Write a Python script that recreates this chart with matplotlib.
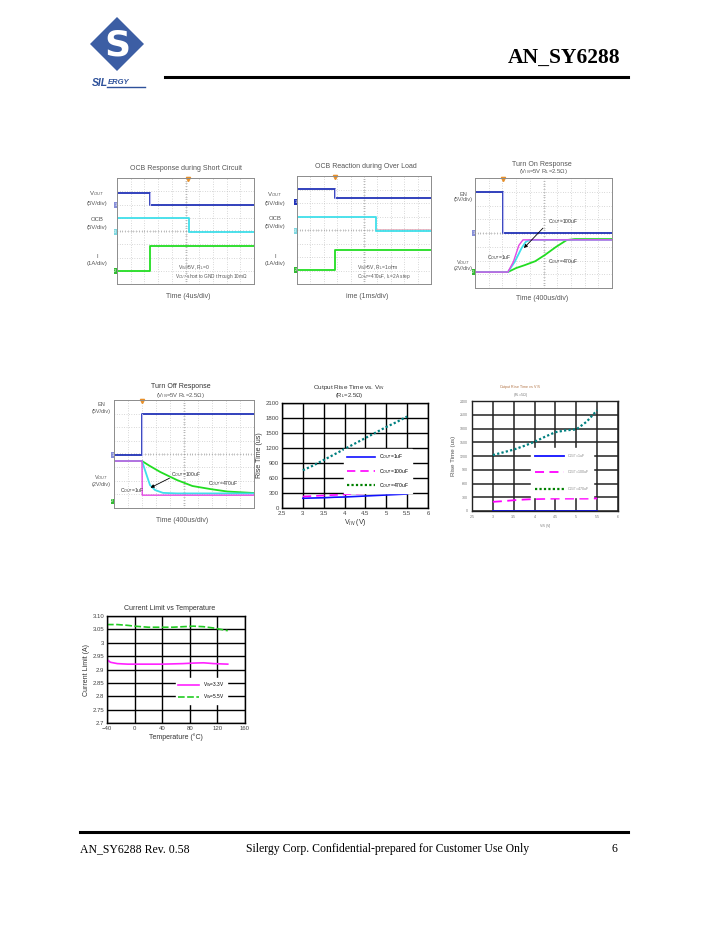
import numpy as np
import matplotlib.pyplot as plt
from matplotlib.patches import Polygon

W, H = 707, 933

plt.rcParams['font.family'] = ['Liberation Sans', 'DejaVu Sans']
plt.rcParams['mathtext.fontset'] = 'custom'
plt.rcParams['mathtext.rm'] = 'Liberation Sans'
plt.rcParams['mathtext.it'] = 'Liberation Sans:italic'

# ------------------------------ dane ------------------------------
# oscylogramy: wartosci w dzialkach ekranu (10 x 8)

# OCB Response during Short Circuit
sc_t = [0, 2.4, 2.4, 10]
sc_vout = [6.87, 6.87, 5.96, 5.96]
sc_ocb_t = [0, 5.25, 5.25, 10]
sc_ocb = [4.98, 4.98, 3.92, 3.92]
sc_i = [0.98, 0.98, 2.87, 2.87]

# OCB Reaction during Over Load
ol_t = [0, 2.84, 2.84, 10]
ol_vout = [7.04, 7.04, 6.37, 6.37]
ol_ocb_t = [0, 5.9, 5.9, 10]
ol_ocb = [4.96, 4.96, 3.93, 3.93]
ol_i = [1.04, 1.04, 2.52, 2.52]

# Turn On Response
on_en_t = [0, 2.04, 2.04, 10]
on_en = [6.98, 6.98, 4.0, 4.0]
on_t_470 = [0, 2.4, 3.0, 3.65, 4.4, 5.1, 5.9, 6.7, 7.3, 10]
on_v_470 = [1.16, 1.16, 1.45, 1.67, 1.95, 2.4, 2.98, 3.49, 3.56, 3.56]
on_t_100 = [0, 2.4, 2.9, 3.4, 3.7, 4.0, 10]
on_v_100 = [1.16, 1.16, 1.9, 2.9, 3.35, 3.5, 3.5]
on_t_1 = [0, 2.4, 2.8, 3.2, 3.5, 10]
on_v_1 = [1.16, 1.16, 1.9, 3.1, 3.5, 3.5]

# Turn Off Response
off_en_t = [0, 2.0, 2.0, 10]
off_en = [3.93, 3.93, 6.96, 6.96]
off_t_470 = [0, 2.0, 2.5, 3.3, 4.5, 5.6, 6.9, 8.1, 10]
off_v_470 = [3.48, 3.48, 3.15, 2.67, 2.07, 1.63, 1.4, 1.22, 1.11]
off_t_100 = [0, 2.0, 2.33, 2.57, 2.93, 3.5, 4.5, 10]
off_v_100 = [3.48, 3.48, 2.44, 1.7, 1.33, 1.12, 1.08, 1.08]
off_t_1 = [0, 2.0, 2.02, 10]
off_v_1 = [3.48, 3.48, 0.95, 0.95]

# Output Rise Time vs. VIN
vin = [3.0, 3.25, 3.5, 3.75, 4.0, 4.25, 4.5, 4.75, 5.0, 5.25, 5.5]
rise_1uf = [195, 200, 205, 215, 220, 230, 240, 250, 260, 270, 280]
rise_100uf = [230, 240, 250, 260, 270, 285, 295, 305, 320, 335, 350]
rise_470uf = [755, 850, 960, 1070, 1180, 1290, 1400, 1510, 1620, 1720, 1830]
rise_ticks_x = [2.5, 3, 3.5, 4, 4.5, 5, 5.5, 6]
rise_ticks_y = [0, 300, 600, 900, 1200, 1500, 1800, 2100]

# drugi wykres czasu narastania
rise2_1uf = [0, 0, 0, 0, 0, 0, 0, 0, 0, 0, 0]
rise2_100uf = [200, 215, 235, 250, 260, 265, 270, 270, 270, 270, 275]
rise2_470uf = [1220, 1280, 1340, 1420, 1510, 1620, 1720, 1760, 1780, 1950, 2200]
rise2_ticks_y = [0, 300, 600, 900, 1200, 1500, 1800, 2100, 2400]

# Current Limit vs Temperature
temp = [-40, -35, -25, -10, 0, 20, 40, 55, 70, 85, 100, 115, 135]
ilim_a = [2.937, 2.927, 2.922, 2.92, 2.92, 2.92, 2.92, 2.921, 2.922, 2.924, 2.925, 2.922, 2.92]
ilim_b = [3.068, 3.068, 3.068, 3.065, 3.062, 3.058, 3.058, 3.058, 3.06, 3.062, 3.06, 3.055, 3.045]
temp_ticks = [-40, 0, 40, 80, 120, 160]
ilim_ticks = [2.7, 2.75, 2.8, 2.85, 2.9, 2.95, 3, 3.05, 3.1]
ilim_labels = ['2.7', '2.75', '2.8', '2.85', '2.9', '2.95', '3', '3.05', '3.10']

# kolory oscyloskopu
C_BLUE = '#2233b8'
C_CYAN = '#3fdfea'
C_GREEN = '#22dd22'
C_MAG = '#e448e4'
C_TXT = '#555555'

fig = plt.figure(figsize=(W / 100, H / 100), dpi=100)


def px_axes(left, top, right, bottom):
    return fig.add_axes([left / W, 1 - bottom / H, (right - left) / W, (bottom - top) / H])


def ftext(x, y, s, **kw):
    fig.text(x / W, 1 - y / H, s, **kw)


def scope_axes(left, top, right, bottom):
    ax = px_axes(left, top, right, bottom)
    ax.set_xlim(0, 10)
    ax.set_ylim(0, 8)
    ax.set_xticks([])
    ax.set_yticks([])
    for x in range(1, 10):
        ax.axvline(x, color='#b4b4b4', lw=0.5, ls=(0, (1, 2.5)))
    for y in range(1, 8):
        ax.axhline(y, color='#b4b4b4', lw=0.5, ls=(0, (1, 2.5)))
    mx = np.arange(0.2, 10, 0.2)
    my = np.arange(0.2, 8, 0.2)
    ax.plot(mx, np.full(len(mx), 4), ls='none', marker='|', ms=1.6, mew=0.4, color='#999999')
    ax.plot(np.full(len(my), 5), my, ls='none', marker='_', ms=1.6, mew=0.4, color='#999999')
    for s in ax.spines.values():
        s.set_color('#8c8c8c')
        s.set_linewidth(0.7)
    return ax


def gnd(ax, y, color, label):
    ax.text(-0.12, y, label, fontsize=2.8, color='white', ha='center', va='center',
            bbox=dict(boxstyle='square,pad=0.15', fc=color, ec='none'), clip_on=False)


def trigger(ax, x):
    ax.plot(x, 7.93, marker='v', ms=3, color='#e8902a', clip_on=False)


# ------------------------------ naglowek / stopka ------------------------------

logo = Polygon([(117 / W, 1 - 17 / H), (144 / W, 1 - 44 / H), (117 / W, 1 - 71 / H), (90 / W, 1 - 44 / H)],
               closed=True, transform=fig.transFigure, fc='#3c5ea4', ec='none')
fig.patches.append(logo)
ftext(117, 45, 'S', fontsize=26, fontweight='bold', color='white', ha='center', va='center',
      family='DejaVu Sans')
ftext(92, 83, 'SIL', fontsize=7.5, fontweight='bold', style='italic', color='#2e519a',
      ha='left', va='center')
ftext(108, 82, 'ERGY', fontsize=5.5, fontweight='bold', style='italic', color='#2e519a',
      ha='left', va='center')
fig.add_artist(plt.Line2D([107 / W, 145 / W], [1 - 86.5 / H, 1 - 86.5 / H], color='#2e519a', lw=1,
                          transform=fig.transFigure))

ftext(620, 58, 'AN_SY6288', fontsize=15.5, fontweight='bold', family='Liberation Serif',
      ha='right', va='center')
fig.add_artist(plt.Line2D([165 / W, 628 / W], [1 - 77 / H, 1 - 77 / H], color='black', lw=2.2,
                          transform=fig.transFigure))

fig.add_artist(plt.Line2D([80 / W, 628 / W], [1 - 832 / H, 1 - 832 / H], color='black', lw=2.2,
                          transform=fig.transFigure))
ftext(80, 849, 'AN_SY6288 Rev. 0.58', fontsize=8.5, family='Liberation Serif', ha='left', va='center')
ftext(388, 849, 'Silergy Corp. Confidential-prepared for Customer Use Only', fontsize=8.5,
      family='Liberation Serif', ha='center', va='center')
ftext(614, 849, '6', fontsize=8.5, family='Liberation Serif', ha='center', va='center')

# ------------------------------ OCB short circuit ------------------------------

ax = scope_axes(117, 178, 254, 284)
ax.plot(sc_t, sc_i, color=C_GREEN, lw=1.3)
ax.plot(sc_ocb_t, sc_ocb, color=C_CYAN, lw=1.3)
ax.plot(sc_t, sc_vout, color=C_BLUE, lw=1.3)
ax.plot([sc_t[1], sc_t[2]], [sc_vout[1], sc_vout[2]], color='#b8b8f0', lw=0.8)
trigger(ax, 5.2)
gnd(ax, sc_vout[-1], '#8890d8', '1')
gnd(ax, sc_ocb[-1], '#7fd8e0', '3')
gnd(ax, sc_i[0], '#33bb33', '2')
ax.text(4.45, 1.2, 'V$_{IN}$=5V, R$_L$=0', fontsize=3.6, color=C_TXT, va='center')
ax.text(4.2, 0.53, 'V$_{OUT}$ short to GND through 10mΩ', fontsize=3.4, color=C_TXT, va='center')
ftext(186, 168, 'OCB Response during Short Circuit', fontsize=5, color=C_TXT, ha='center', va='center')
ftext(188, 297, 'Time (4us/div)', fontsize=5, color=C_TXT, ha='center', va='center')
for y, s in [(194, 'V$_{OUT}$'), (203, '(5V/div)'), (220, 'OCB'), (228, '(5V/div)'), (256, 'I'), (264, '(1A/div)')]:
    ftext(97, y, s, fontsize=4.3, color=C_TXT, ha='center', va='center')

# ------------------------------ OCB over load ------------------------------

ax = scope_axes(297, 176, 431, 284)
ax.plot(ol_t, ol_i, color=C_GREEN, lw=1.3)
ax.plot(ol_ocb_t, ol_ocb, color=C_CYAN, lw=1.3)
ax.plot([ol_ocb_t[2], 10], [ol_ocb[2] + 0.15, ol_ocb[2] + 0.15], color='#e0a0b0', lw=0.5)
ax.plot(ol_t, ol_vout, color=C_BLUE, lw=1.3)
ax.plot([ol_t[1], ol_t[2]], [ol_vout[1], ol_vout[2]], color='#b8b8f0', lw=0.8)
trigger(ax, ol_t[1])
gnd(ax, 6.07, '#2233b8', '1')
gnd(ax, ol_ocb[-1], '#7fd8e0', '3')
gnd(ax, ol_i[0], '#33bb33', '2')
ax.text(4.48, 1.19, 'V$_{IN}$=5V, R$_L$=1ohm', fontsize=3.6, color=C_TXT, va='center')
ax.text(4.48, 0.52, 'C$_{OUT}$=470uF, I$_L$=2A step', fontsize=3.4, color=C_TXT, va='center')
ftext(366, 167, 'OCB Reaction during Over Load', fontsize=5, color=C_TXT, ha='center', va='center')
ftext(367, 297, 'ime (1ms/div)', fontsize=5, color=C_TXT, ha='center', va='center')
for y, s in [(195, 'V$_{OUT}$'), (203, '(5V/div)'), (218, 'OCB'), (227, '(5V/div)'), (257, 'I'), (264, '(1A/div)')]:
    ftext(275, y, s, fontsize=4.3, color=C_TXT, ha='center', va='center')

# ------------------------------ Turn On ------------------------------

ax = scope_axes(475, 178, 612, 288)
ax.plot(on_t_470, on_v_470, color=C_GREEN, lw=1.3)
ax.plot(on_t_100, on_v_100, color=C_CYAN, lw=1.3)
ax.plot(on_t_1, on_v_1, color=C_MAG, lw=1.0)
ax.plot(on_en_t, on_en, color=C_BLUE, lw=1.3)
ax.plot([on_en_t[1], on_en_t[2]], [on_en[1], on_en[2]], color='#b8b8f0', lw=0.8)
trigger(ax, on_en_t[1])
gnd(ax, on_en[-1], '#8890d8', '1')
gnd(ax, on_v_470[0], '#33bb33', '2')
ax.annotate('', xy=(3.43, 2.76), xytext=(5.1, 4.5),
            arrowprops=dict(arrowstyle='-|>', color='black', lw=0.6, mutation_scale=5))
ax.text(5.3, 4.8, 'C$_{OUT}$=100uF', fontsize=3.6, color='#333333', va='center')
ax.text(0.9, 2.2, 'C$_{OUT}$=1uF', fontsize=3.6, color='#333333', va='center')
ax.text(5.3, 1.9, 'C$_{OUT}$=470uF', fontsize=3.6, color='#333333', va='center')
ftext(542, 164, 'Turn On Response', fontsize=5, color=C_TXT, ha='center', va='center')
ftext(543, 171, '(V$_{IN}$=5V R$_L$=2.5Ω)', fontsize=4.2, color=C_TXT, ha='center', va='center')
ftext(542, 299, 'Time (400us/div)', fontsize=5, color=C_TXT, ha='center', va='center')
for y, s in [(195, 'EN'), (200, '(5V/div)'), (263, 'V$_{OUT}$'), (269, '(2V/div)')]:
    ftext(463, y, s, fontsize=4.0, color=C_TXT, ha='center', va='center')

# ------------------------------ Turn Off ------------------------------

ax = scope_axes(114, 400, 254, 508)
ax.plot(off_t_470, off_v_470, color=C_GREEN, lw=1.3)
ax.plot(off_t_100, off_v_100, color=C_CYAN, lw=1.3)
ax.plot(off_t_1, off_v_1, color=C_MAG, lw=1.0)
ax.plot(off_en_t, off_en, color=C_BLUE, lw=1.3)
ax.plot([off_en_t[1], off_en_t[2]], [off_en[1], off_en[2]], color='#b8b8f0', lw=0.8)
trigger(ax, off_en_t[1])
gnd(ax, off_en[0], '#8890d8', '1')
gnd(ax, 0.5, '#33bb33', '2')
ax.annotate('', xy=(2.43, 1.41), xytext=(4.14, 2.3),
            arrowprops=dict(arrowstyle='-|>', color='black', lw=0.6, mutation_scale=5))
ax.text(4.1, 2.5, 'C$_{OUT}$=100uF', fontsize=3.6, color='#333333', va='center')
ax.text(0.4, 1.26, 'C$_{OUT}$=1uF', fontsize=3.6, color='#333333', va='center')
ax.text(6.7, 1.78, 'C$_{OUT}$=470uF', fontsize=3.6, color='#333333', va='center')
ftext(181, 386, 'Turn Off Response', fontsize=5, color='#333333', ha='center', va='center')
ftext(180, 396, '(V$_{IN}$=5V R$_L$=2.5Ω)', fontsize=4.2, color=C_TXT, ha='center', va='center')
ftext(182, 520, 'Time (400us/div)', fontsize=5, color=C_TXT, ha='center', va='center')
for y, s in [(405, 'EN'), (412, '(5V/div)'), (478, 'V$_{OUT}$'), (485, '(2V/div)')]:
    ftext(101, y, s, fontsize=4.0, color=C_TXT, ha='center', va='center')

# ------------------------------ Output Rise Time vs. VIN ------------------------------

ax = px_axes(282, 403, 428, 508)
ax.plot(vin, rise_1uf, color='#1010ff', lw=1.2, label='C$_{OUT}$=1uF')
ax.plot(vin, rise_100uf, color='#ff00ff', lw=1.2, ls=(0, (5, 3)), label='C$_{OUT}$=100uF')
ax.plot(vin, rise_470uf, color='#008080', lw=1.6, ls=(0, (1, 1)), label='C$_{OUT}$=470uF')
ax.set_xlim(2.5, 6)
ax.set_ylim(0, 2100)
ax.set_xticks(rise_ticks_x)
ax.set_yticks(rise_ticks_y)
ax.set_xticklabels(['2.5', '3', '3.5', '4', '4.5', '5', '5.5', '6'])
ax.grid(True, color='black', lw=1.0)
ax.tick_params(labelsize=4.3, length=0, pad=2, colors='#444444')
for s in ax.spines.values():
    s.set_color('black')
    s.set_linewidth(1.0)
ax.set_ylabel('Rise Time (us)', fontsize=5, color='#333333', labelpad=2)
ax.set_xlabel('V$_{IN}$ (V)', fontsize=5, color='#333333', labelpad=1)
leg = ax.legend(loc='center left', bbox_to_anchor=(0.41, 0.35), fontsize=3.6, handlelength=5.5,
                labelspacing=1.1, frameon=True, fancybox=False, borderpad=0.6)
leg.get_frame().set_edgecolor('white')
leg.get_frame().set_facecolor('white')
leg.get_frame().set_alpha(1)
leg.get_lines()[2].set_color('#008000')
ftext(349, 387, 'Output Rise Time vs. V$_{IN}$', fontsize=4.6, color='#333333', ha='center', va='center')
ftext(349, 395, '(R$_L$=2.5Ω)', fontsize=4.2, color='#333333', ha='center', va='center')

# ------------------------------ drugi wykres czasu narastania ------------------------------

ax = px_axes(472, 401, 618, 511)
ax.plot(vin, rise2_1uf, color='#1010ff', lw=1.3, label='C$_{OUT}$=1uF', clip_on=False)
ax.plot(vin, rise2_100uf, color='#ff00ff', lw=1.3, ls=(0, (5, 3)), label='C$_{OUT}$=100uF')
ax.plot(vin, rise2_470uf, color='#008080', lw=1.6, ls=(0, (1, 1)), label='C$_{OUT}$=470uF')
ax.set_xlim(2.5, 6)
ax.set_ylim(0, 2400)
ax.set_xticks(rise_ticks_x)
ax.set_yticks(rise2_ticks_y)
ax.set_xticklabels(['2.5', '3', '3.5', '4', '4.5', '5', '5.5', '6'])
ax.grid(True, color='#222222', lw=1.1)
ax.tick_params(labelsize=2.6, length=0, pad=3, colors='#777777')
for s in ax.spines.values():
    s.set_color('#222222')
    s.set_linewidth(1.0)
ax.set_ylabel('Rise Time (us)', fontsize=4.5, color='#555555', labelpad=3)
ax.set_xlabel('V$_{IN}$ (V)', fontsize=2.6, color='#777777', labelpad=2)
leg = ax.legend(loc='center left', bbox_to_anchor=(0.39, 0.35), fontsize=2.6, handlelength=8,
                labelspacing=2.4, frameon=True, fancybox=False, borderpad=1.2)
leg.get_frame().set_edgecolor('white')
leg.get_frame().set_facecolor('white')
leg.get_frame().set_alpha(1)
for t in leg.get_texts():
    t.set_color('#888888')
leg.get_lines()[2].set_color('#008000')
ftext(520, 387, 'Output Rise Time vs. V$_{IN}$', fontsize=2.6, color='#b07040', ha='center', va='center')
ftext(521, 395, '(R$_L$=5Ω)', fontsize=2.6, color='#777777', ha='center', va='center')

# ------------------------------ Current Limit vs Temperature ------------------------------

ax = px_axes(107, 616, 245, 723)
ax.plot(temp, ilim_a, color='#ff22ff', lw=1.2, label='V$_{IN}$=3.3V')
ax.plot(temp, ilim_b, color='#22cc22', lw=1.2, ls=(0, (4, 1.5)), label='V$_{IN}$=5.5V')
ax.set_xlim(-40, 160)
ax.set_ylim(2.7, 3.1)
ax.set_xticks(temp_ticks)
ax.set_yticks(ilim_ticks)
ax.set_yticklabels(ilim_labels)
ax.grid(True, color='black', lw=1.0)
ax.tick_params(labelsize=4.3, length=0, pad=2, colors='#444444')
for s in ax.spines.values():
    s.set_color('black')
    s.set_linewidth(1.0)
ax.set_ylabel('Current Limit (A)', fontsize=5, color='#333333', labelpad=2)
ax.set_xlabel('Temperature (°C)', fontsize=5, color='#333333', labelpad=2)
leg = ax.legend(loc='center left', bbox_to_anchor=(0.48, 0.3), fontsize=3.4, handlelength=4.5,
                labelspacing=0.6, frameon=True, fancybox=False, borderpad=0.5)
leg.get_frame().set_edgecolor('white')
leg.get_frame().set_facecolor('white')
leg.get_frame().set_alpha(1)
ftext(170, 608, 'Current Limit vs Temperature', fontsize=5, color='#333333', ha='center', va='center')

fig.savefig('out.png', dpi=100)
